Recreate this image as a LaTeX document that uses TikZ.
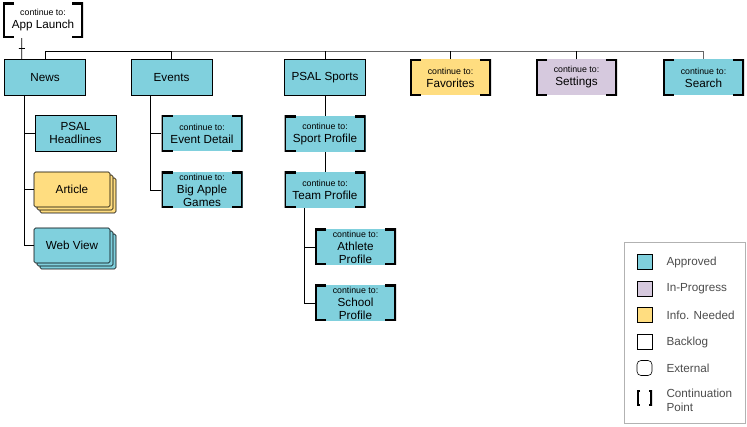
\documentclass[tikz,border=0pt]{standalone}
\usepackage{fontspec}
\setmainfont{Liberation Sans}
\usetikzlibrary{shadows}

\definecolor{approved}{RGB}{128,208,221}
\definecolor{inprogress}{RGB}{214,201,222}
\definecolor{infoneeded}{RGB}{255,221,128}

\newcommand{\contto}{{\fontsize{8.8}{10}\selectfont continue to:}\\}

\begin{document}
\begin{tikzpicture}[x=1pt, y=-1pt,
	box/.style = {minimum width=81pt, minimum height=36pt, inner sep=1pt, align=center, font=\fontsize{11.7}{13}\selectfont},
	plainbox/.style = {box, draw, line width=.6pt, fill=#1},
	brackets/.style = {path picture={
		\draw[line width=3.4pt]
			([xshift=#1]path picture bounding box.north west) -| (path picture bounding box.south west) -- ++(#1,0pt)
			([xshift=-#1]path picture bounding box.north east) -| (path picture bounding box.south east) -- ++(-#1,0pt);}},
	contbox/.style = {box, fill=#1, brackets=11pt},
	stackbox/.style = {box, draw, line width=.6pt, fill=#1, rounded corners=1.5pt, minimum width=76pt, minimum height=35pt,
		double copy shadow={shadow xshift=3pt, shadow yshift=-3pt}},
	tick/.style = {draw, line width=.6pt, minimum width=6pt, minimum height=0pt, inner sep=0pt},
	swatch/.style = {draw, line width=.6pt, minimum size=15pt, inner sep=0pt, fill=#1},
	legendtext/.style = {anchor=west, align=left, text=black!70, font=\fontsize{11.7}{14}\selectfont}
]
	\useasboundingbox (0,0) rectangle (747,427);

	% top level
	\node [contbox=white, minimum width=80pt, minimum height=35pt] (applaunch) at (43,20.5) {\contto App Launch};
	\node [plainbox=approved] (news) at (45,77.5) {News};
	\node [plainbox=approved] (events) at (171.5,77.5) {Events};
	\node [plainbox=approved] (sports) at (325,77.5) {PSAL Sports};
	\node [contbox=infoneeded] (favorites) at (450.5,77.5) {\contto Favorites};
	\node [contbox=inprogress] (settings) at (576.5,77.5) {\contto Settings};
	\node [contbox=approved] (search) at (703.5,77.5) {\contto Search};

	% news
	\node [plainbox=approved] (headlines) at (75.5,133) {PSAL\\Headlines};
	\node [stackbox=infoneeded] (article) at (72,189.5) {Article};
	\node [stackbox=approved] (webview) at (72,245.5) {Web View};

	% events
	\node [contbox=approved] (eventdetail) at (202,133.5) {\contto Event Detail};
	\node [contbox=approved] (bigapple) at (202,190) {\contto Big Apple\\Games};

	% sports
	\node [contbox=approved] (sportprofile) at (325,134) {\contto Sport Profile};
	\node [contbox=approved] (teamprofile) at (325,190) {\contto Team Profile};
	\node [contbox=approved] (athlete) at (355.5,247) {\contto Athlete\\Profile};
	\node [contbox=approved] (school) at (355.5,303) {\contto School\\Profile};

	% connectors
	\draw [line width=.6pt] ([xshift=19pt]applaunch.south west) -- node [tick] {} ([xshift=17.5pt]news.north west);
	\draw [line width=.6pt] (news.north) -- ++(0,-8) coordinate (bus) -| (events.north);
	\draw [line width=.6pt, black!60] (events.north |- bus) -| (search.north);
	\foreach \n in {sports,favorites,settings}
		\draw [line width=.6pt] (\n.north) -- (\n.north |- bus);

	\draw [line width=.6pt] ([xshift=20pt]news.south west) coordinate (newstrunk) |- (webview.west);
	\foreach \n in {headlines,article}
		\draw [line width=.6pt] (\n.west) -- (\n.west -| newstrunk);
	\draw [line width=.6pt] ([xshift=20pt]events.south west) coordinate (eventstrunk) |- (bigapple.west);
	\draw [line width=.6pt] (eventdetail.west) -- (eventdetail.west -| eventstrunk);
	\draw [line width=.6pt] (sports.south) -- (sportprofile.north);
	\draw [line width=.6pt] (sportprofile.south) -- (teamprofile.north);
	\draw [line width=.6pt] ([xshift=20pt]teamprofile.south west) coordinate (teamtrunk) |- (school.west);
	\draw [line width=.6pt] (athlete.west) -- (athlete.west -| teamtrunk);

	% legend
	\draw [black!30, line width=.8pt] (624,242) rectangle (745,423);
	\node [swatch=approved] (keyapproved) at (644.5,262) {};
	\node [swatch=inprogress] (keyprogress) at (644.5,289) {};
	\node [swatch=infoneeded] (keyinfo) at (644.5,315) {};
	\node [swatch=white] (keybacklog) at (644.5,342) {};
	\node [swatch=white, rounded corners=4pt] (keyexternal) at (644.5,368) {};
	\node [minimum size=15pt, inner sep=0pt, brackets=3pt] (keycont) at (644.5,398) {};
	\node [legendtext] at (663,262) {Approved};
	\node [legendtext] at (663,289) {In-Progress};
	\node [legendtext] at (663,315) {Info. Needed};
	\node [legendtext] at (663,342) {Backlog};
	\node [legendtext] at (663,368) {External};
	\node [legendtext] at (663,400) {Continuation\\Point};
\end{tikzpicture}
\end{document}
